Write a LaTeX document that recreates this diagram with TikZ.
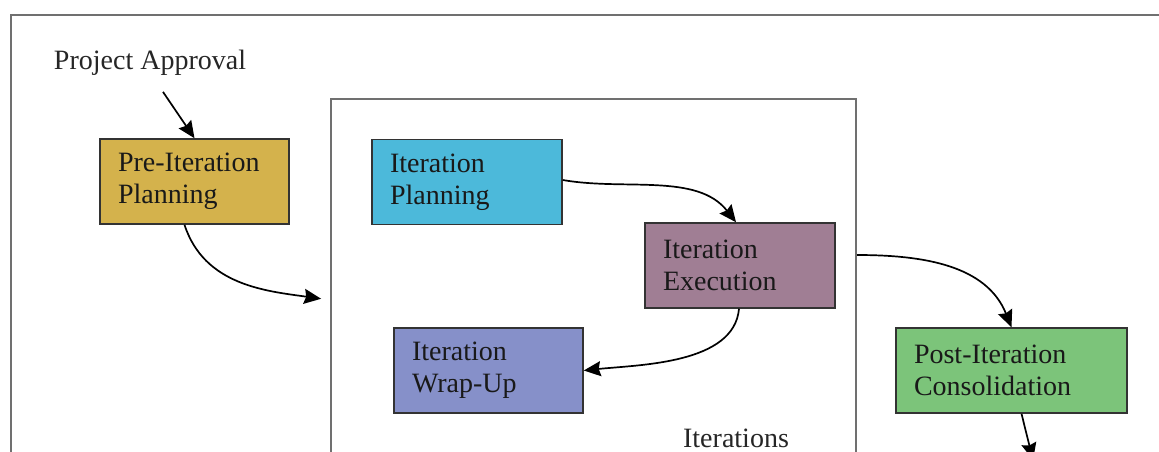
\documentclass[tikz,border=0pt]{standalone}
\usepackage{fontspec}
\setmainfont{Liberation Serif}
\usetikzlibrary{arrows.meta}

\definecolor{preGold}{HTML}{D4B24C}
\definecolor{planCyan}{HTML}{4CB9DA}
\definecolor{execMauve}{HTML}{A07E94}
\definecolor{wrapBlue}{HTML}{8690C9}
\definecolor{postGreen}{HTML}{7CC47A}
\definecolor{frameGray}{HTML}{707070}

\tikzset{
  phase/.style={draw=black!80, line width=1.5pt, align=left,
    inner xsep=18pt, inner ysep=0pt, minimum height=85pt,
    font=\fontsize{28}{32}\selectfont, text=black!90},
  frame/.style={draw=frameGray, line width=2.5pt},
  arr/.style={draw=black, line width=1.7pt,
    -{Stealth[length=17pt,width=15pt,inset=2pt]}},
  plain/.style={font=\fontsize{28}{32}\selectfont, text=black!85, inner sep=0pt}
}

\begin{document}
\begin{tikzpicture}[x=1pt,y=1pt]
  \useasboundingbox (0,0) rectangle (1159,-451);
  \fill[white] (0,0) rectangle (1159,-451);

  % outer frame (open towards right and bottom)
  \draw[frame] (1200,-15) -- (11,-15) -- (11,-500);

  % container of the iteration cycle
  \node[frame, line width=2pt, anchor=north west, minimum width=525pt,
        minimum height=402pt, inner sep=0pt] (iters) at (330,-98) {};
  \node[plain] (iterlabel) at (736,-438) {Iterations};

  % phases
  \node[plain] (pa) at (150,-63) {Project Approval};
  \node[phase, fill=preGold, text width=153pt] (pre) at (194.5,-181.5)
    {Pre-Iteration\\Planning};
  \node[phase, fill=planCyan, text width=154pt] (ip) at (467,-182)
    {Iteration\\Planning};
  \node[phase, fill=execMauve, text width=154pt] (ie) at (740,-265.5)
    {Iteration\\Execution};
  \node[phase, fill=wrapBlue, text width=153pt] (wu) at (488.5,-370.5)
    {Iteration\\Wrap-Up};
  \node[phase, fill=postGreen, text width=195pt] (post) at (1011.5,-370.5)
    {Post-Iteration\\Consolidation};

  \coordinate (iterexit) at ([yshift=45pt]iters.east);
  \coordinate (onward) at (1033,-460);

  % connectors
  \draw[arr] ([xshift=13pt,yshift=-16pt]pa.south) -- (pre.north);
  \draw[arr, shorten >=9pt] ([xshift=-10pt]pre.south) to[out=-72,in=172] (iters.west);
  \draw[arr] ([yshift=2pt]ip.east) to[out=-10,in=128,looseness=0.9] ([xshift=-4pt]ie.north);
  \draw[arr] ([xshift=-1pt]ie.south) to[out=-95,in=6,looseness=0.85] (wu.east);
  \draw[arr] (iterexit) to[out=0,in=112] (post.north);
  \draw[arr] ([xshift=10pt]post.south) -- (onward);
\end{tikzpicture}
\end{document}
